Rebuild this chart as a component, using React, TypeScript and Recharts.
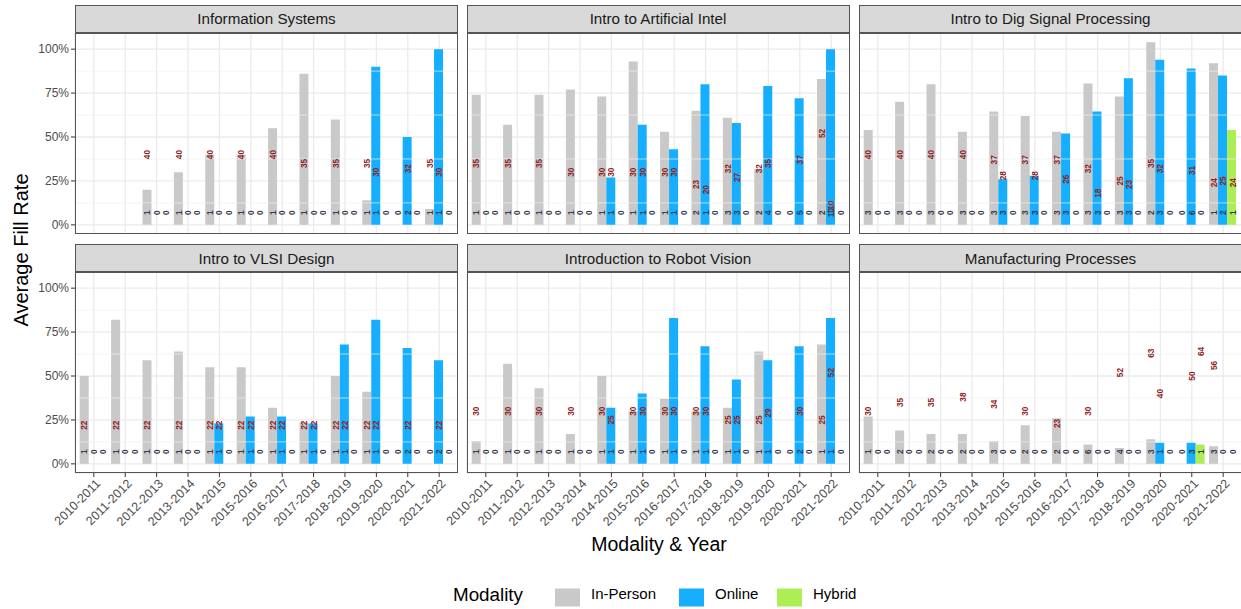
import React from "react";
import {
  ComposedChart,
  Bar,
  Scatter,
  XAxis,
  YAxis,
  CartesianGrid,
  ReferenceLine,
} from "recharts";

const YEARS = [
  "2010-2011", "2011-2012", "2012-2013", "2013-2014", "2014-2015", "2015-2016",
  "2016-2017", "2017-2018", "2018-2019", "2019-2020", "2020-2021", "2021-2022",
];

const COURSES = [
  "Information Systems",
  "Intro to Artificial Intel",
  "Intro to Dig Signal Processing",
  "Intro to VLSI Design",
  "Introduction to Robot Vision",
  "Manufacturing Processes",
];

// average fill rate in %, one row per course, one value per year
const FILL_IN_PERSON = [
  [null, null, 20, 30, 40, 40, 55, 86, 60, 14, null, 9],
  [74, 57, 74, 77, 73, 93, 53, 65, 61, 32, null, 83],
  [54, 70, 80, 53, 64.5, 62, 53, 80.5, 73, 104, null, 92],
  [50, 82, 59, 64, 55, 55, 32, 23.5, 50, 41, null, null],
  [13, 57, 43, 17, 50, 30, 37, 30, 32, 64, null, 68],
  [27, 19, 17, 17, 13, 22, 26, 11, 9, 14, null, 10],
];
const FILL_ONLINE = [
  [null, null, null, null, null, null, null, null, null, 90, 50, 100],
  [null, null, null, null, 27, 57, 43, 80, 58, 79, 72, 100],
  [null, null, null, null, 26, 28, 52, 64.5, 83.5, 94, 89, 85],
  [null, null, null, null, 23, 27, 27, 23, 68, 82, 66, 59],
  [null, null, null, null, 32, 40, 83, 67, 48, 59, 67, 83],
  [null, null, null, null, null, null, null, null, null, 12, 12, null],
];
const FILL_HYBRID = [
  [null, null, null, null, null, null, null, null, null, null, null, null],
  [null, null, null, null, null, null, null, null, null, null, null, null],
  [null, null, null, null, null, null, null, null, null, null, null, 54],
  [null, null, null, null, null, null, null, null, null, null, null, null],
  [null, null, null, null, null, null, null, null, null, null, null, null],
  [null, null, null, null, null, null, null, null, null, null, 11, null],
];

// enrolment cap printed in red, placed at its own height on the % scale
const CAP_IN_PERSON = [
  [null, null, 40, 40, 40, 40, 40, 35, 35, 35, null, 35],
  [35, 35, 35, 30, 30, 30, 30, 23, 32, 32, null, 52],
  [40, 40, 40, 40, 37, 37, 37, 32, 25, 35, null, 24],
  [22, 22, 22, 22, 22, 22, 22, 22, 22, 22, null, null],
  [30, 30, 30, 30, 30, 30, 30, 30, 25, 25, null, 25],
  [30, 35, 35, 38, 34, 30, 23, 30, 52, 63, null, 56],
];
const CAP_ONLINE = [
  [null, null, null, null, null, null, null, null, null, 30, 32, 30],
  [null, null, null, null, 30, 30, 30, 20, 27, 35, 37, 110],
  [null, null, null, null, 28, 28, 26, 18, 23, 32, 31, 25],
  [null, null, null, null, 22, 22, 22, 22, 22, 22, 22, 22],
  [null, null, null, null, 25, 30, 30, 30, 25, 29, 30, 52],
  [null, null, null, null, null, null, null, null, null, 40, 50, null],
];
const CAP_HYBRID = [
  [null, null, null, null, null, null, null, null, null, null, null, null],
  [null, null, null, null, null, null, null, null, null, null, null, null],
  [null, null, null, null, null, null, null, null, null, null, null, 24],
  [null, null, null, null, null, null, null, null, null, null, null, null],
  [null, null, null, null, null, null, null, null, null, null, null, null],
  [null, null, null, null, null, null, null, null, null, null, 64, null],
];

// number of sections, printed near the baseline
const SECTIONS_IN_PERSON = [
  [null, null, 1, 1, 1, 1, 1, 1, 1, 1, 0, 1],
  [1, 1, 1, 1, 1, 1, 1, 2, 3, 2, 0, 2],
  [3, 3, 3, 3, 3, 3, 3, 3, 3, 2, 0, 1],
  [1, 1, 1, 1, 1, 1, 1, 1, 1, 1, 0, 0],
  [1, 1, 1, 1, 1, 1, 1, 1, 1, 1, 0, 1],
  [1, 2, 2, 2, 3, 2, 2, 6, 4, 3, 0, 3],
];
const SECTIONS_ONLINE = [
  [null, null, 0, 0, 0, 0, 0, 0, 0, 1, 2, 1],
  [0, 0, 0, 0, 1, 1, 1, 1, 3, 4, 5, 10],
  [0, 0, 0, 0, 3, 3, 3, 3, 3, 3, 6, 2],
  [0, 0, 0, 0, 1, 1, 1, 1, 1, 1, 2, 2],
  [0, 0, 0, 0, 1, 1, 1, 1, 1, 1, 2, 1],
  [0, 0, 0, 0, 0, 0, 0, 0, 0, 1, 3, 0],
];
const SECTIONS_HYBRID = [
  [null, null, 0, 0, 0, 0, 0, 0, 0, 0, 0, 0],
  [0, 0, 0, 0, 0, 0, 0, 0, 0, 0, 0, 0],
  [0, 0, 0, 0, 0, 0, 0, 0, 0, 0, 0, 1],
  [0, 0, 0, 0, 0, 0, 0, 0, 0, 0, 0, 0],
  [0, 0, 0, 0, 0, 0, 0, 0, 0, 0, 0, 0],
  [0, 0, 0, 0, 0, 0, 0, 0, 0, 0, 1, 0],
];

const MODALITIES = [
  { key: "ip", name: "In-Person", color: "#C9C9C9" },
  { key: "on", name: "Online", color: "#16AEFF" },
  { key: "hy", name: "Hybrid", color: "#AEEE55" },
];

const Y_TICKS = [0, 25, 50, 75, 100];
const Y_MINOR = [12.5, 37.5, 62.5, 87.5];
const Y_DOMAIN: [number, number] = [-5.2, 109.2];
const COUNT_Y = 7;

const FONT = "'Liberation Sans', Arial, Helvetica, sans-serif";
const PANEL_W = 383;
const PANEL_H = 201;
const STRIP_H = 28;
const COL_X = [75, 466.5, 859];
const ROW_Y = [4.5, 244];
const Y_AXIS_W = 75;
const X_AXIS_H = 80;
const LEFT_ROOM = 50;
const BAND = PANEL_W / 12.2;
const X_PAD = BAND * 0.1;
const SLOT = BAND * 0.3;
const SLOT_OFFSET = [-SLOT, 0, SLOT];

const BORDER = "#555555";
const CAP_COLOR = "#8E2222";
const COUNT_COLOR = "#363A4C";

function RotatedText({ x, y, color, children }: { x: number; y: number; color: string; children: React.ReactNode }) {
  return (
    <text
      x={x}
      y={y}
      transform={`rotate(-90, ${x}, ${y})`}
      textAnchor="middle"
      dominantBaseline="central"
      fontSize={8.3}
      fontWeight={700}
      fill={color}
      fontFamily={FONT}
    >
      {children}
    </text>
  );
}

function CountLabels(props: any) {
  const { cx, cy, payload } = props;
  if (payload == null || payload.ipN == null || cx == null || cy == null) return <g />;
  const counts = [payload.ipN, payload.onN, payload.hyN];
  return (
    <g>
      {counts.map((n, i) => (
        <RotatedText key={i} x={cx + SLOT_OFFSET[i]} y={cy} color={COUNT_COLOR}>
          {n}
        </RotatedText>
      ))}
    </g>
  );
}

function capShape(field: string, slot: number) {
  return (props: any) => {
    const { cx, cy, payload } = props;
    if (payload == null || payload[field] == null || cx == null || cy == null) return <g />;
    return (
      <RotatedText x={cx + SLOT_OFFSET[slot]} y={cy} color={CAP_COLOR}>
        {payload[field]}
      </RotatedText>
    );
  };
}

function YearTick(props: any) {
  const { x, y, payload } = props;
  return (
    <g transform={`translate(${x + 1},${y - 1})`}>
      <text
        transform="rotate(-45)"
        textAnchor="end"
        dy="0.72em"
        fontSize={12.5}
        fill="#4D4D4D"
        fontFamily={FONT}
      >
        {payload.value}
      </text>
    </g>
  );
}

function Facet({ course, col, row }: { course: number; col: number; row: number }) {
  const withY = col === 0;
  const withX = row === 1;
  const leftRoom = withY ? Y_AXIS_W : withX ? LEFT_ROOM : 0;
  const width = PANEL_W + leftRoom;
  const height = PANEL_H + (withX ? X_AXIS_H : 0);
  const top = ROW_Y[row] + STRIP_H;

  const data = YEARS.map((year, i) => ({
    year,
    ip: FILL_IN_PERSON[course][i],
    on: FILL_ONLINE[course][i],
    hy: FILL_HYBRID[course][i],
    ipCap: CAP_IN_PERSON[course][i],
    onCap: CAP_ONLINE[course][i],
    hyCap: CAP_HYBRID[course][i],
    ipN: SECTIONS_IN_PERSON[course][i],
    onN: SECTIONS_ONLINE[course][i],
    hyN: SECTIONS_HYBRID[course][i],
  }));

  return (
    <>
      <div
        style={{
          position: "absolute",
          left: COL_X[col],
          top: ROW_Y[row],
          width: PANEL_W,
          height: STRIP_H,
          boxSizing: "border-box",
          background: "#D9D9D9",
          border: `1px solid ${BORDER}`,
          display: "flex",
          alignItems: "center",
          justifyContent: "center",
          fontFamily: FONT,
          fontSize: 15.2,
          color: "#1A1A1A",
        }}
      >
        {COURSES[course]}
      </div>
      <div style={{ position: "absolute", left: COL_X[col] - leftRoom, top, width, height }}>
        <ComposedChart
          width={width}
          height={height}
          data={data}
          margin={{ top: 0, right: 0, bottom: 0, left: withY ? 0 : leftRoom }}
          barCategoryGap="5%"
          barGap={0}
        >
          <CartesianGrid stroke="#EBEBEB" strokeWidth={1.3} />
          {Y_MINOR.map((v) => (
            <ReferenceLine key={v} y={v} stroke="#EFEFEF" strokeWidth={0.7} />
          ))}
          <XAxis
            dataKey="year"
            type="category"
            hide={!withX}
            height={X_AXIS_H}
            padding={{ left: X_PAD, right: X_PAD }}
            interval={0}
            axisLine={false}
            tickSize={4}
            tickLine={{ stroke: "#333333" }}
            tick={<YearTick />}
          />
          <YAxis
            type="number"
            domain={Y_DOMAIN}
            allowDataOverflow
            ticks={Y_TICKS}
            hide={!withY}
            width={Y_AXIS_W}
            axisLine={false}
            tickSize={4}
            tickLine={{ stroke: "#333333" }}
            tickFormatter={(v: number) => `${v}%`}
            tick={{ fill: "#4D4D4D", fontSize: 12, fontFamily: FONT }}
          />
          {MODALITIES.map((m) => (
            <Bar key={m.key} dataKey={m.key} fill={m.color} isAnimationActive={false} />
          ))}
          <Scatter
            dataKey={(d: any) => (d.ipN == null ? null : COUNT_Y)}
            shape={CountLabels}
            isAnimationActive={false}
          />
          {MODALITIES.map((m, i) => (
            <Scatter
              key={m.key + "Cap"}
              dataKey={(d: any) => (d[m.key + "Cap"] == null ? null : d[m.key + "Cap"] % 100)}
              shape={capShape(m.key + "Cap", i)}
              isAnimationActive={false}
            />
          ))}
        </ComposedChart>
      </div>
      <div
        style={{
          position: "absolute",
          left: COL_X[col],
          top,
          width: PANEL_W,
          height: PANEL_H,
          boxSizing: "border-box",
          border: `1px solid ${BORDER}`,
          pointerEvents: "none",
        }}
      />
    </>
  );
}

export default function App() {
  const legendX = [555, 679, 777];
  return (
    <div
      style={{
        position: "absolute",
        left: 0,
        top: 0,
        width: 1241,
        height: 609,
        overflow: "hidden",
        background: "#FFFFFF",
        fontFamily: FONT,
      }}
    >
      <svg width={1241} height={609} style={{ position: "absolute", left: 0, top: 0 }}>
        <text
          transform="translate(21,250) rotate(-90)"
          textAnchor="middle"
          dominantBaseline="central"
          fontSize={20}
          fill="#000000"
          fontFamily={FONT}
        >
          Average Fill Rate
        </text>
        <text x={659} y={551} textAnchor="middle" fontSize={19.5} fill="#000000" fontFamily={FONT}>
          Modality &amp; Year
        </text>
        <text x={453} y={600.5} fontSize={18.8} fill="#000000" fontFamily={FONT}>
          Modality
        </text>
        {MODALITIES.map((m, i) => (
          <g key={m.key}>
            <rect x={legendX[i]} y={588.5} width={25} height={18} fill={m.color} />
            <text x={legendX[i] + 36} y={599} fontSize={15} fill="#000000" fontFamily={FONT}>
              {m.name}
            </text>
          </g>
        ))}
      </svg>
      {COURSES.map((_, i) => (
        <Facet key={i} course={i} col={i % 3} row={Math.floor(i / 3)} />
      ))}
    </div>
  );
}
